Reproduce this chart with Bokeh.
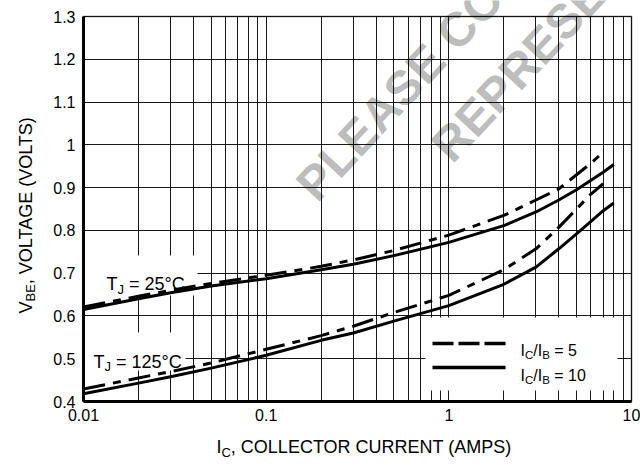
import math
from bokeh.plotting import figure
from bokeh.models import (Label, BoxAnnotation, FixedTicker, Arrow, LogAxis,
                          LinearAxis, Grid, Range1d)
from bokeh.embed import file_html
from bokeh.resources import INLINE

# ---------------- data ----------------
ic_r10 = [0.01, 0.02, 0.03, 0.05, 0.1, 0.2, 0.3, 0.5, 1, 2, 3, 4, 5, 6, 7, 8]
vbe_25_r10 = [0.615, 0.640, 0.654, 0.670, 0.687, 0.708, 0.721, 0.741, 0.772,
              0.811, 0.843, 0.871, 0.895, 0.917, 0.936, 0.954]
vbe_125_r10 = [0.418, 0.443, 0.458, 0.478, 0.508, 0.543, 0.560, 0.588, 0.624,
               0.674, 0.714, 0.757, 0.792, 0.821, 0.846, 0.864]

ic_r5 = [0.01, 0.02, 0.03, 0.05, 0.1, 0.2, 0.3, 0.5, 1, 2, 3, 4, 5, 6, 7]
vbe_25_r5 = [0.621, 0.646, 0.660, 0.676, 0.695, 0.716, 0.731, 0.753, 0.789,
             0.835, 0.871, 0.897, 0.930, 0.957, 0.983]
vbe_125_r5 = [0.429, 0.455, 0.470, 0.490, 0.522, 0.554, 0.576, 0.608, 0.648,
              0.708, 0.757, 0.807, 0.850, 0.885, 0.909]

x_ticks = [0.01, 0.1, 1, 10]
x_tick_labels = ["0.01", "0.1", "1", "10"]
y_ticks = [0.4, 0.5, 0.6, 0.7, 0.8, 0.9, 1.0, 1.1, 1.2, 1.3]
y_tick_labels = ["0.4", "0.5", "0.6", "0.7", "0.8", "0.9", "1", "1.1", "1.2", "1.3"]

NB = "\u00a0"
series_labels = [("I", False), ("C", True), ("/I", False), ("B", True)]
legend_r5 = NB + "= 5"
legend_r10 = NB + "= 10"
temp_25 = NB + "=" + NB + "25°C"
temp_125 = NB + "=" + NB + "125°C"
x_title = [("I", False), ("C", True), (", COLLECTOR CURRENT (AMPS)", False)]
y_title = [("V", False), ("BE", True), (", VOLTAGE (VOLTS)", False)]
watermark = ["PLEASE CONSULT", "REPRESENTATIVE"]

FONT = "Liberation Sans"

# Arial / Liberation Sans advance widths (1/1000 em)
W = {' ': 278, NB: 278, '(': 333, ')': 333, ',': 278, '.': 278, '/': 278, '=': 584,
     '°': 400, 'A': 667, 'B': 667, 'C': 722, 'E': 667, 'G': 778, 'I': 278, 'J': 500,
     'L': 556, 'M': 833, 'N': 722, 'O': 778, 'P': 667, 'R': 722, 'S': 667, 'T': 611,
     'U': 722, 'V': 667}
for d in "0123456789":
    W[d] = 556


def tw(s, size):
    return sum(W.get(c, 556) for c in s) * size / 1000.0


# ---------------- layout: plot area in canvas pixels ----------------
CW, CH = 640, 466
AL, AR, AT, AB = 83, 631, 16, 401      # chart area edges (px)
x_lo, x_hi = x_ticks[0], x_ticks[-1]
y_lo, y_hi = y_ticks[0], y_ticks[-1]
ppd = (AR - AL) / math.log10(x_hi / x_lo)
ppv = (AB - AT) / (y_hi - y_lo)
xr = Range1d(10 ** (math.log10(x_lo) - AL / ppd), 10 ** (math.log10(x_hi) + (CW - AR) / ppd))
yr = Range1d(y_lo - (CH - AB) / ppv, y_hi + AT / ppv)

p = figure(width=CW, height=CH, x_axis_type="log", x_axis_location=None,
           y_axis_location=None, x_range=xr, y_range=yr,
           output_backend="svg", toolbar_location=None, min_border=0)
p.background_fill_color = "white"
p.border_fill_color = "white"
p.outline_line_color = None
p.grid.visible = False

# grid
grid_x = [m * 10.0 ** e for e in (-2, -1, 0) for m in range(1, 10)] + [10.0]
gx = Grid(dimension=0, ticker=FixedTicker(ticks=grid_x), bounds=(x_lo, x_hi),
          cross_bounds=(y_lo, y_hi))
gy = Grid(dimension=1, ticker=FixedTicker(ticks=y_ticks), bounds=(y_lo, y_hi),
          cross_bounds=(x_lo, x_hi))
for g in (gx, gy):
    g.grid_line_color = "black"
    g.grid_line_width = 1
    g.grid_line_alpha = 0.9
    p.add_layout(g)

# axes
xaxis = LogAxis(fixed_location=y_lo, bounds=(x_lo, x_hi), ticker=FixedTicker(ticks=x_ticks))
yaxis = LinearAxis(fixed_location=x_lo, bounds=(y_lo, y_hi), ticker=FixedTicker(ticks=y_ticks))
xaxis.major_label_overrides = dict(zip(x_ticks, x_tick_labels))
yaxis.major_label_overrides = dict(zip(y_ticks, y_tick_labels))
for ax in (xaxis, yaxis):
    ax.major_tick_in = 0
    ax.major_tick_out = 0
    ax.minor_tick_in = 0
    ax.minor_tick_out = 0
    ax.axis_line_width = 3
    ax.axis_line_color = "black"
    ax.major_label_text_font = FONT
    ax.major_label_text_font_size = "16px"
    ax.major_label_text_color = "black"
xaxis.major_label_standoff = 7
yaxis.major_label_standoff = 8
p.add_layout(xaxis, "below")
p.add_layout(yaxis, "left")

# chart border
p.add_layout(BoxAnnotation(left=x_lo, right=x_hi, bottom=y_lo, top=y_hi,
                           fill_color=None, fill_alpha=0, line_color="black",
                           line_width=2, level="guide"))


def rich(parts, sx, sy, size, angle=0.0, sub_scale=0.72, sub_drop=0.3):
    adv = 0.0
    ca, sa = math.cos(angle), math.sin(angle)
    for txt, sub in parts:
        fs = size * sub_scale if sub else size
        drop = size * sub_drop if sub else 0.0
        x = sx + adv * ca + drop * sa
        y = sy + adv * sa - drop * ca
        p.add_layout(Label(x=x, y=y, x_units="screen", y_units="screen", text=txt,
                           text_font=FONT, text_font_size=f"{fs:.1f}px",
                           angle=angle, text_align="left",
                           text_baseline="alphabetic", text_color="black"))
        adv += tw(txt, fs)


# watermark (behind grid)
wm_angle = math.radians(47)
for txt, (px, py) in zip(watermark, [(305, 192), (440, 153)]):
    p.add_layout(Label(x=px, y=CH - py, x_units="screen", y_units="screen", text=txt,
                       text_font=FONT, text_font_style="bold", text_font_size="48px",
                       angle=wm_angle, text_color="#bdbdbd", level="image",
                       text_baseline="alphabetic", text_align="left"))

# white boxes behind texts (cover grid), given as page pixels l, r, top, bottom
for l, r, t, b in [(83, 197, 255, 295), (83, 185, 332, 370), (425, 617, 317, 390)]:
    p.add_layout(BoxAnnotation(left=l, right=r, bottom=CH - b, top=CH - t,
                               left_units="screen", right_units="screen",
                               bottom_units="screen", top_units="screen",
                               fill_color="white", fill_alpha=1.0, line_color=None,
                               level="underlay"))

# curves
dash = "22 8 8 8"
p.line(ic_r10, vbe_25_r10, line_width=3, line_color="black", line_join="round")
p.line(ic_r10, vbe_125_r10, line_width=3, line_color="black", line_join="round")
p.line(ic_r5, vbe_25_r5, line_width=3, line_color="black", line_dash=dash, line_join="round")
p.line(ic_r5, vbe_125_r5, line_width=3, line_color="black", line_dash=dash, line_join="round")

# temperature labels
rich([("T", False), ("J", True), (temp_25, False)], 106, CH - 283.5, 18)
rich([("T", False), ("J", True), (temp_125, False)], 93, CH - 361, 18)

# legend
for py, dsh in [(343, "21 5"), (367, "solid")]:
    p.add_layout(Arrow(x_start=432, y_start=CH - py, x_end=505, y_end=CH - py,
                       start_units="screen", end_units="screen", start=None, end=None,
                       line_width=3.5, line_color="black", line_dash=dsh))
rich(series_labels + [(legend_r5, False)], 520, CH - 350, 16)
rich(series_labels + [(legend_r10, False)], 520, CH - 375, 16)

# axis titles
rich(x_title, 216, CH - 446.5, 18)
rich(y_title, 25, CH - 313, 18, angle=math.pi / 2)

open("out.html", "w").write(file_html(p, INLINE))
